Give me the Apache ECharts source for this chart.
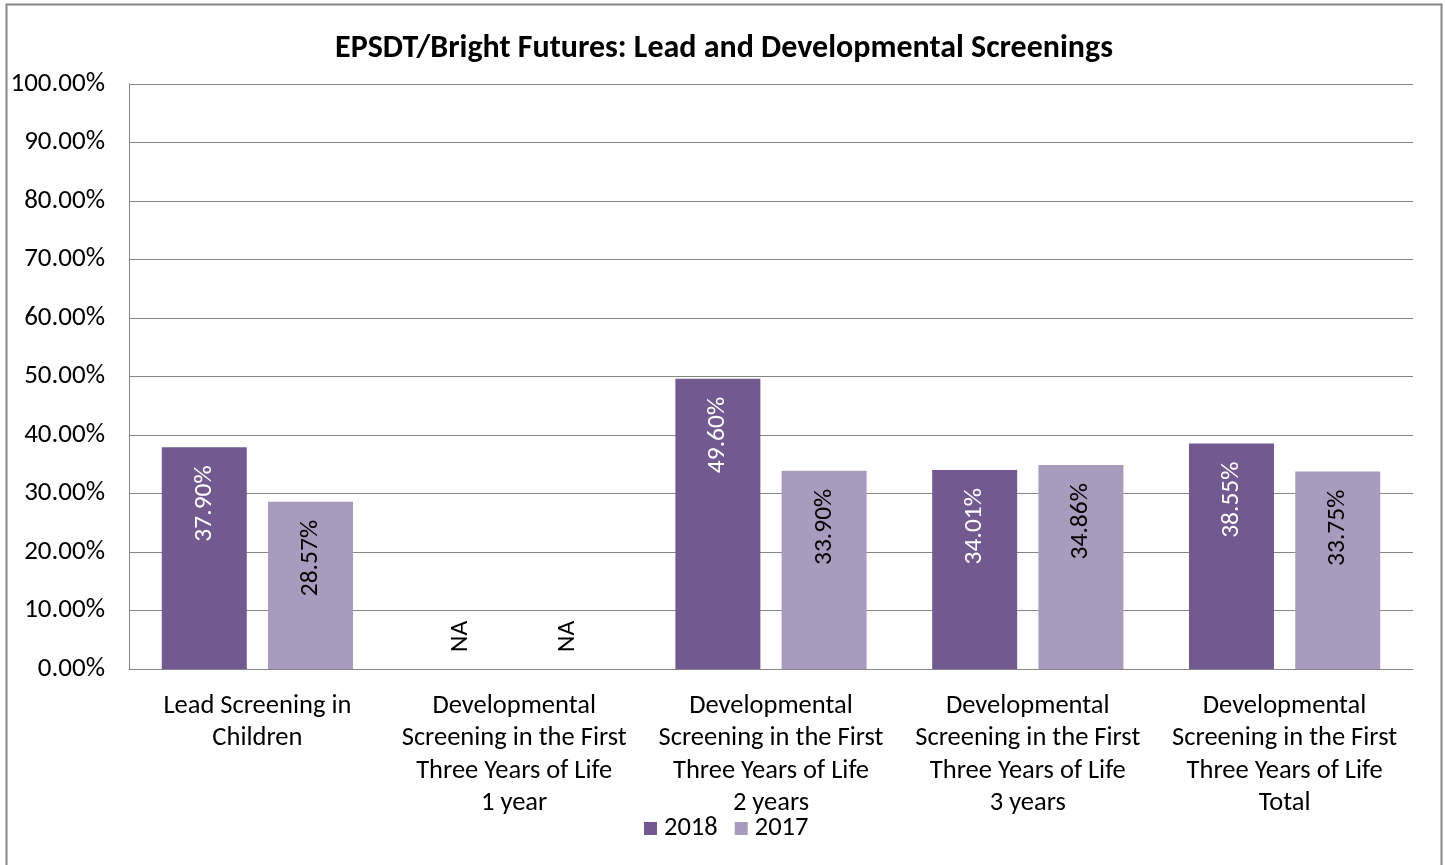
<!DOCTYPE html>
<html>
<head>
<meta charset="utf-8">
<script src="https://cdn.jsdelivr.net/npm/echarts@6/dist/echarts.min.js"></script>
<style>
  html, body { margin: 0; padding: 0; background: #fff; }
  #chart { width: 1445px; height: 865px; }
</style>
</head>
<body>
<div id="chart"></div>
<script>
// 数据
const categories = [
  "Lead Screening in\nChildren",
  "Developmental\nScreening in the First\nThree Years of Life\n1 year",
  "Developmental\nScreening in the First\nThree Years of Life\n2 years",
  "Developmental\nScreening in the First\nThree Years of Life\n3 years",
  "Developmental\nScreening in the First\nThree Years of Life\nTotal"
];
const values2018 = [37.90, null, 49.60, 34.01, 38.55];
const values2017 = [28.57, null, 33.90, 34.86, 33.75];
const yTicks = [0, 10, 20, 30, 40, 50, 60, 70, 80, 90, 100];

const FONT = "Carlito, Calibri, Lato, sans-serif";

// null -> 高度为0的柱子，底部显示 "NA"
function toData(arr) {
  return arr.map(function (v) {
    if (v === null) {
      return {
        value: 0,
        label: {
          formatter: "NA",
          position: "insideBottom",
          align: "left",
          distance: 17,
          color: "#000"
        }
      };
    }
    return v;
  });
}

function makeSeries(name, arr, color, labelColor) {
  return {
    name: name,
    type: "bar",
    data: toData(arr),
    barWidth: 85,
    barGap: "25%",
    itemStyle: { color: color },
    label: {
      show: true,
      position: "insideTop",
      rotate: 90,
      align: "right",
      verticalAlign: "middle",
      distance: 18,
      fontFamily: FONT,
      fontSize: 25.5,
      color: labelColor,
      formatter: function (p) { return p.value.toFixed(2) + "%"; }
    }
  };
}

const chart = echarts.init(document.getElementById("chart"));
chart.setOption({
  backgroundColor: "#fff",
  animation: false,
  textStyle: { fontFamily: FONT },
  graphic: [{
    type: "rect",
    shape: { x: 6.5, y: 4.5, width: 1435, height: 870 },
    style: { fill: "none", stroke: "#868686", lineWidth: 2 },
    silent: true
  }],
  title: {
    text: "EPSDT/Bright Futures: Lead and Developmental Screenings",
    left: 719,
    textAlign: "center",
    top: 28,
    textStyle: { fontFamily: FONT, fontSize: 32, fontWeight: "bold", color: "#000" }
  },
  legend: {
    left: 639,
    top: 810,
    itemWidth: 13,
    itemHeight: 13,
    itemGap: 17,
    icon: "rect",
    textStyle: { fontFamily: FONT, fontSize: 26.5, color: "#000", padding: [0, 0, 0, 2] },
    data: ["2018", "2017"]
  },
  grid: { left: 129, right: 32, top: 84, bottom: 196 },
  xAxis: {
    type: "category",
    data: categories,
    axisLine: { lineStyle: { color: "#868686", width: 1 } },
    axisTick: { show: false },
    axisLabel: {
      interval: 0,
      margin: 21,
      fontFamily: FONT,
      fontSize: 26.5,
      lineHeight: 32.5,
      color: "#000"
    }
  },
  yAxis: {
    type: "value",
    min: yTicks[0],
    max: yTicks[yTicks.length - 1],
    interval: 10,
    axisLine: { show: true, lineStyle: { color: "#868686", width: 1 } },
    axisTick: { show: false },
    splitLine: { lineStyle: { color: "#868686", width: 1 } },
    axisLabel: {
      margin: 24,
      fontFamily: FONT,
      fontSize: 27,
      color: "#000",
      formatter: function (v) { return v.toFixed(2) + "%"; }
    }
  },
  series: [
    makeSeries("2018", values2018, "#72598f", "#fff"),
    makeSeries("2017", values2017, "#a99bbe", "#000")
  ]
});
</script>
</body>
</html>
